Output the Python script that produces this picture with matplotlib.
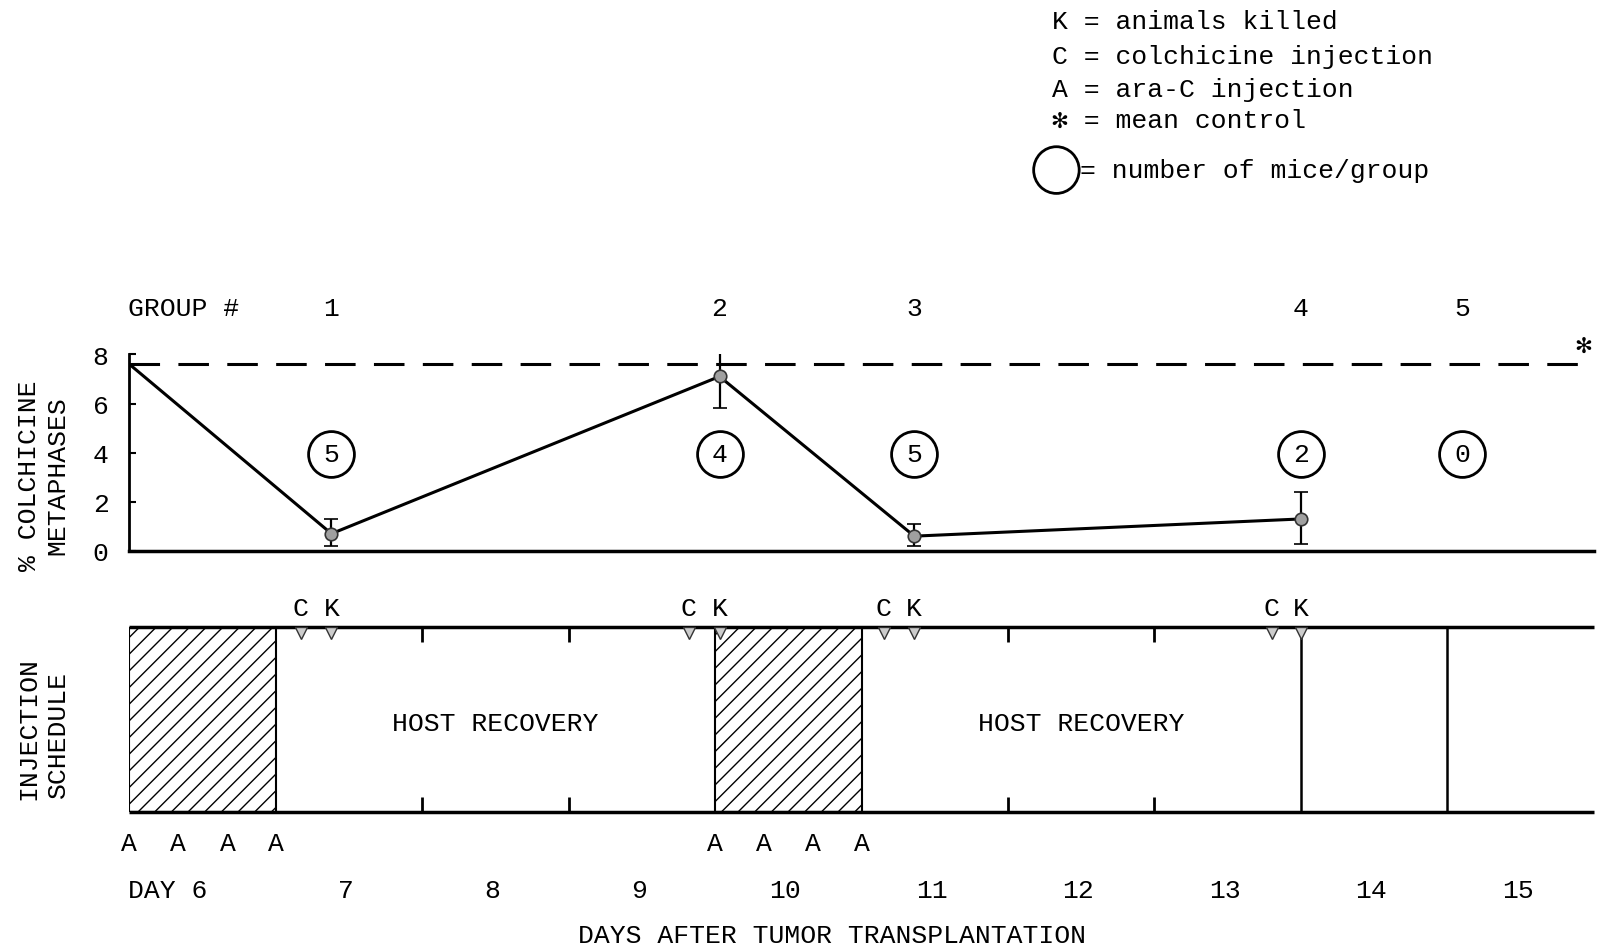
import matplotlib
matplotlib.use("Agg")
import matplotlib.pyplot as plt
from matplotlib.patches import Rectangle, Ellipse

FONT = ['Liberation Mono', 'DejaVu Sans Mono', 'DejaVu Sans']
plt.rcParams['font.family'] = FONT
plt.rcParams['hatch.linewidth'] = 1.0
FS = 19

# ---------------- data ----------------
line_days = [6.0, 7.38, 10.03, 11.36, 14.0]
line_pct = [7.6, 0.7, 7.1, 0.6, 1.3]
group_days = [7.38, 10.03, 11.36, 14.0]
group_pct = [0.7, 7.1, 0.6, 1.3]
err_low = [0.5, 1.3, 0.4, 1.0]
err_high = [0.6, 1.3, 0.5, 1.1]
mean_control = 7.6
group_labels = ['1', '2', '3', '4', '5']
group_label_days = [7.38, 10.03, 11.36, 14.0, 15.1]
mice_per_group = [5, 4, 5, 2, 0]

araC_days = [6.0, 6.33, 6.67, 7.0, 10.0, 10.33, 10.67, 11.0]
colch_days = [7.17, 9.82, 11.15, 13.8]
kill_days = [7.38, 10.03, 11.36, 14.0]
hatched_periods = [(6, 7), (10, 11)]
recovery_centers = [8.5, 12.5]
schedule_lines = [14, 15]
minor_ticks = [8, 9, 12, 13]
day_numbers = [6, 7, 8, 9, 10, 11, 12, 13, 14, 15]
yticks = [0, 2, 4, 6, 8]

legend_lines = ['K = animals killed', 'C = colchicine injection',
                'A = ara-C injection', '\u273b = mean control']

# ---------------- figure ----------------
fig = plt.figure(figsize=(15.97, 9.53), dpi=100)
L, R = 0.081, 0.998

# upper panel
ax = fig.add_axes([L, 0.4209, R - L, 0.2062])
ax.set_xlim(6, 16)
ax.set_ylim(0, 8)
for s in ['top', 'right']:
    ax.spines[s].set_visible(False)
ax.spines['bottom'].set_linewidth(2.5)
ax.spines['left'].set_linewidth(2.0)
ax.set_xticks([])
ax.set_yticks(yticks)
ax.tick_params(axis='y', direction='in', length=5, width=1.5, pad=15, labelsize=FS)

ax.axhline(mean_control, color='black', lw=2.2, dashes=(10, 6))
ax.plot(line_days, line_pct, color='black', lw=2.2, zorder=3)
yerr = [err_low, err_high]
ax.errorbar(group_days, group_pct, yerr=yerr, fmt='o', ms=9, mfc='#a0a0a0',
            mec='#333333', mew=1.2, ecolor='black', elinewidth=1.6,
            capsize=5, capthick=2.2, zorder=4)

for d, lab in zip(group_label_days, group_labels):
    ax.text(d, 9.9, lab, ha='center', va='center', fontsize=FS, clip_on=False)
ax.text(5.99, 9.9, 'GROUP #', ha='left', va='center', fontsize=FS, clip_on=False)

ax.plot(group_label_days, [3.95] * len(group_label_days), 'o', ms=33,
        mfc='none', mec='black', mew=2.0, clip_on=False)
for d, n in zip(group_label_days, mice_per_group):
    ax.text(d, 3.95, str(n), ha='center', va='center', fontsize=FS)

ax.text(15.93, 8.4, '\u273b', ha='center', va='center', fontsize=FS,
        family=FONT, clip_on=False)

# lower panel
bx = fig.add_axes([L, 0.1474, R - L, 0.1934])
bx.set_xlim(6, 16)
bx.set_ylim(0, 1)
bx.axis('off')

for a, b in hatched_periods:
    bx.add_patch(Rectangle((a, 0), b - a, 1, facecolor='white',
                           edgecolor='black', hatch='//', lw=1.5))
bx.hlines([0, 1], 6, 16, color='black', lw=2.5, clip_on=False)
bx.vlines(schedule_lines, 0, 1, color='black', lw=1.8)
bx.vlines(minor_ticks, 0.92, 1, color='black', lw=2.0)
bx.vlines(minor_ticks, 0, 0.08, color='black', lw=2.0)

for c in recovery_centers:
    bx.text(c, 0.48, 'HOST RECOVERY', ha='center', va='center', fontsize=FS)

bx.plot(colch_days, [0.97] * len(colch_days), 'v', ms=8, mfc='#cccccc',
        mec='#333333', mew=1.0, clip_on=False, zorder=5)
bx.plot(kill_days, [0.97] * len(kill_days), 'v', ms=8, mfc='#cccccc',
        mec='#333333', mew=1.0, clip_on=False, zorder=5)
for d in colch_days:
    bx.text(d, 1.105, 'C', ha='center', va='center', fontsize=FS, clip_on=False)
for d in kill_days:
    bx.text(d, 1.105, 'K', ha='center', va='center', fontsize=FS, clip_on=False)

for d in araC_days:
    bx.text(d, -0.17, 'A', ha='center', va='center', fontsize=FS, clip_on=False)

for n in day_numbers:
    if n == day_numbers[0]:
        bx.text(5.99, -0.425, 'DAY %d' % n, ha='left', va='center', fontsize=FS,
                clip_on=False)
    else:
        bx.text(n + 0.48, -0.425, str(n), ha='center', va='center', fontsize=FS,
                clip_on=False)
bx.text(10.8, -0.67, 'DAYS AFTER TUMOR TRANSPLANTATION', ha='center',
        va='center', fontsize=FS, clip_on=False)

# axis titles
fig.text(0.018, 0.501, '% COLCHICINE', rotation=90, ha='center', va='center',
         fontsize=FS)
fig.text(0.036, 0.501, 'METAPHASES', rotation=90, ha='center', va='center',
         fontsize=FS)
fig.text(0.018, 0.236, 'INJECTION', rotation=90, ha='center', va='center',
         fontsize=FS)
fig.text(0.036, 0.229, 'SCHEDULE', rotation=90, ha='center', va='center',
         fontsize=FS)

# legend
for i, t in enumerate(legend_lines):
    fig.text(0.659, [0.9765, 0.940, 0.906, 0.873][i], t, ha='left', va='center',
             fontsize=FS, family=FONT)
fig.text(0.676, 0.8205, '= number of mice/group', ha='left', va='center',
         fontsize=FS)
fig.add_artist(Ellipse((0.6615, 0.8205), 0.0285, 0.049,
                       transform=fig.transFigure, fill=False, lw=2.0,
                       edgecolor='black'))

fig.savefig('out.png', dpi=100)
